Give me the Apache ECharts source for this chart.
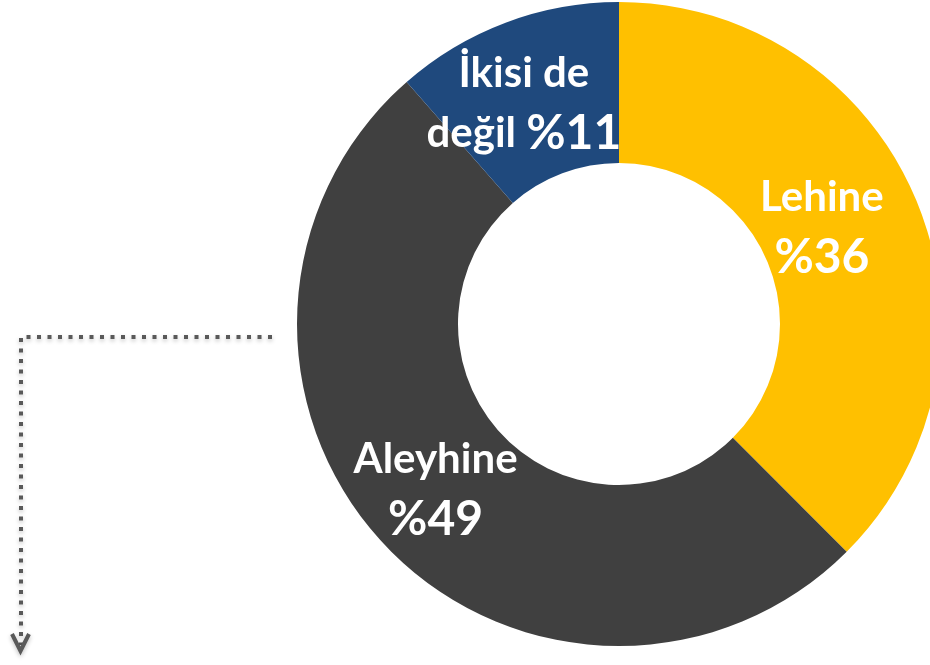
<!DOCTYPE html>
<html>
<head>
<meta charset="utf-8">
<script src="https://cdn.jsdelivr.net/npm/echarts@6/dist/echarts.min.js"></script>
<style>html,body{margin:0;padding:0;background:#fff;}#c{width:930px;height:665px;}</style>
</head>
<body>
<div id="c"></div>
<script>
const categories = ['Lehine', 'Aleyhine', 'İkisi de değil'];
const values = [36, 49, 11];
const labelTexts = ['{a|Lehine}\n{b|%36}', '{a|Aleyhine}\n{b|%49}', '{a|İkisi de}\n{a|değil }{b|%11}'];
const colors = ['#FFC000', '#404040', '#1F497D'];
const labelOffsets = [[-23, -3], [-5, -2], [-9, 8]];

const FONT = 'Lato';
const chart = echarts.init(document.getElementById('c'));
chart.setOption({
  animation: false,
  series: [{
    type: 'pie',
    center: [619, 324],
    radius: [161, 322],
    startAngle: 90,
    clockwise: true,
    silent: true,
    label: {
      show: true,
      position: 'inside',
      color: '#fff',
      fontFamily: FONT,
      fontWeight: 'bold',
      lineHeight: 60,
      rich: {
        a: { fontSize: 42, fontWeight: 'bold', color: '#fff', fontFamily: FONT, lineHeight: 60 },
        b: { fontSize: 48, fontWeight: 'bold', color: '#fff', fontFamily: FONT, lineHeight: 60 }
      }
    },
    labelLine: { show: false },
    itemStyle: { borderWidth: 0 },
    data: categories.map((c, i) => ({
      name: c,
      value: values[i],
      itemStyle: { color: colors[i] },
      label: { formatter: labelTexts[i], offset: labelOffsets[i] }
    }))
  }],
  graphic: [
    {
      type: 'polyline',
      shape: { points: [[272, 337], [21, 337], [21, 645]] },
      style: { stroke: '#595959', lineWidth: 4, lineDash: [4, 6.5], lineCap: 'butt', fill: null,
        shadowBlur: 4, shadowColor: 'rgba(0,0,0,0.25)', shadowOffsetY: 2 }
    },
    {
      type: 'polyline',
      shape: { points: [[12, 634], [20.5, 651], [29, 634]] },
      style: { stroke: '#595959', lineWidth: 4, fill: null,
        shadowBlur: 4, shadowColor: 'rgba(0,0,0,0.25)', shadowOffsetY: 2 }
    }
  ]
});
</script>
</body>
</html>
